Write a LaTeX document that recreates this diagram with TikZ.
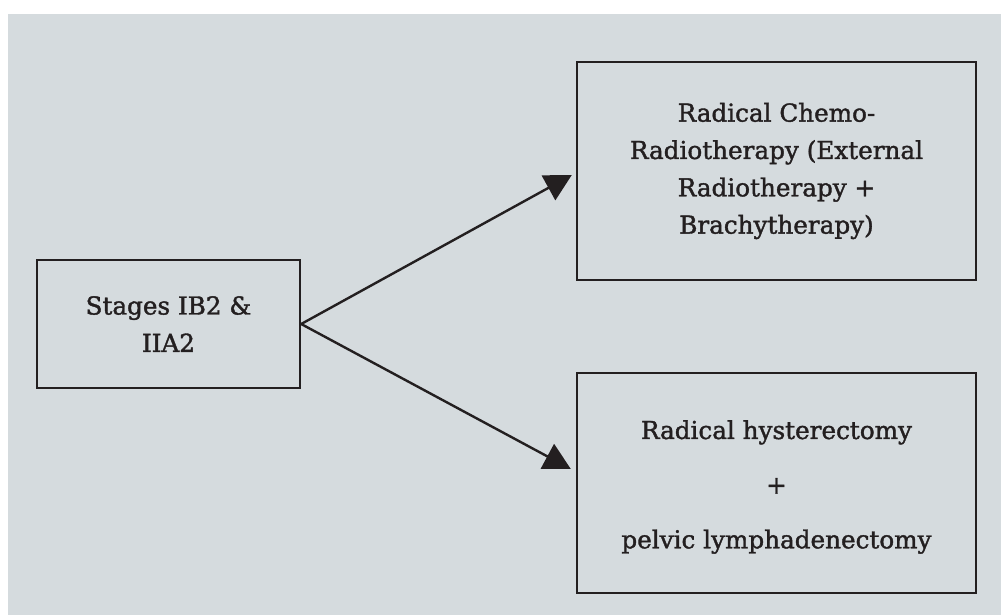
\documentclass[tikz,border=0pt]{standalone}
\usepackage{fontspec}
\setmainfont{DejaVu Serif}[FakeBold=1.5]
\usetikzlibrary{arrows.meta,calc}
\definecolor{panel}{HTML}{D5DBDE}
\definecolor{ink}{HTML}{231F20}
\tikzset{
  box/.style={draw=ink, line width=1.8pt, minimum width=#1, inner sep=0pt, align=center, text=ink,
    font=\fontsize{18.5pt}{28pt}\selectfont},
  label text/.style={inner sep=0pt, align=center, text=ink, font=\fontsize{18.5pt}{28pt}\selectfont},
  conn/.style={draw=ink, line width=1.8pt, -{Triangle[length=20pt,width=21pt]}},
}
\begin{document}
\begin{tikzpicture}[x=0.75pt,y=-0.75pt]
\useasboundingbox (0,0) rectangle (1001,615);
\fill[white] (0,0) rectangle (1001,615);
\fill[panel] (8,14) rectangle (1001,615);
\node[box=263*0.75pt, minimum height=128*0.75pt] (b1) at (168.5,324) {Stages IB2 \&\\IIA2};
\node[box=399*0.75pt, minimum height=218*0.75pt] (b2) at (776.5,171) {Radical Chemo-\\Radiotherapy (External\\Radiotherapy +\\Brachytherapy)};
\node[box=399*0.75pt, minimum height=220*0.75pt] (b3) at (776.5,483) {};
\node[label text] (b3t) at ($(b3.center)+(0,4)$) {Radical hysterectomy\\[13pt]+\\[13pt]pelvic lymphadenectomy};
\draw[conn] (b1.east) -- ($(b2.west)+(-4,4)$);
\draw[conn] (b1.east) -- ($(b3.west)+(-5,-14)$);
\end{tikzpicture}
\end{document}
